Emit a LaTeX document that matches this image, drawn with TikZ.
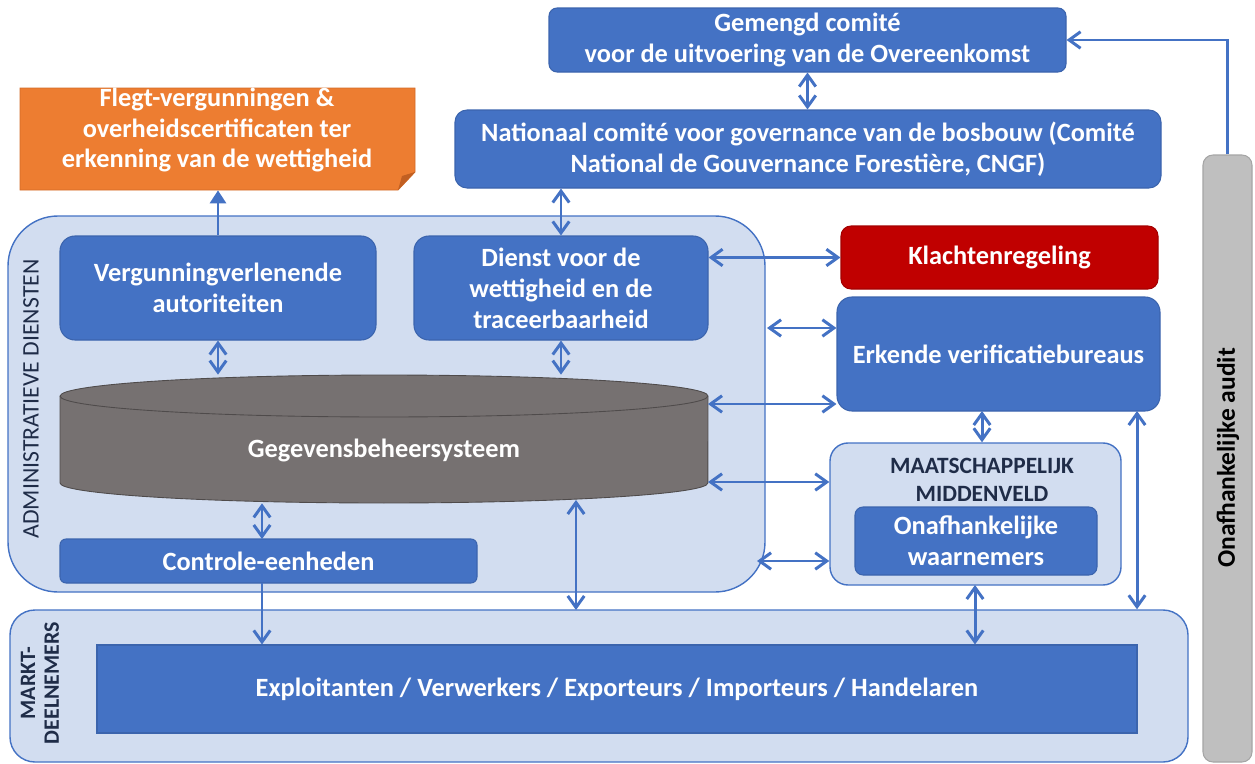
\documentclass[tikz,border=0pt]{standalone}
\usepackage{fontspec}
\setmainfont{Carlito}
\usetikzlibrary{arrows.meta}
\definecolor{bblue}{HTML}{4472C4}
\definecolor{bedge}{HTML}{3B64AD}
\definecolor{lblue}{HTML}{D2DDF0}
\definecolor{navy}{HTML}{1F2C48}
\definecolor{orng}{HTML}{ED7D31}
\definecolor{orngdark}{HTML}{C15F22}
\definecolor{rd}{HTML}{C00000}
\definecolor{dbgray}{HTML}{767171}
\definecolor{dbedge}{HTML}{4F4B4B}
\definecolor{auditgray}{HTML}{BFBFBF}
\definecolor{auditedge}{HTML}{A5A5A5}
\newcommand{\txtmain}{\fontsize{15}{17.6}\selectfont\bfseries}
\begin{document}
\begin{tikzpicture}[x=0.02cm,y=-0.02cm,
 sz/.style 2 args={minimum width=#1*0.02cm, minimum height=#2*0.02cm},
 box/.style={fill=bblue, draw=bedge, line width=0.6pt, text=white, font=\txtmain, align=center, inner sep=0pt},
 cont/.style={fill=lblue, draw=bblue, line width=0.8pt, inner sep=0pt},
 conn/.style={draw=bblue, line width=1.7pt},
 dbl/.style={conn, {Straight Barb[length=2.3mm,width=3.3mm]}-{Straight Barb[length=2.3mm,width=3.3mm]}},
 one/.style={conn, -{Straight Barb[length=2.3mm,width=3.3mm]}},
 tri/.style={conn, -{Triangle[length=2.6mm,width=3.2mm]}},
 wtext/.style={text=white, font=\txtmain, align=center, inner sep=0pt},
 lab/.style={text=navy, align=center, inner sep=0pt}
]
\useasboundingbox (0,0) rectangle (1255,764);

% containers
\node[cont, rounded corners=1cm, sz={757}{376}] (admin) at (386.5,404) {};
\node[cont, rounded corners=0.5cm, sz={1178}{152}] (markt) at (599,686) {};
\node[cont, rounded corners=0.36cm, sz={291}{142}] (maat) at (975.5,514) {};

% audit bar
\node[fill=auditgray, draw=auditedge, line width=0.6pt, rounded corners=0.2cm, inner sep=0pt, sz={49}{607}] (audit) at (1227.5,458.5) {};
\node[rotate=90, font=\fontsize{14.5}{17}\selectfont\bfseries, inner sep=0pt] (audittxt) at (1228,458) {Onafhankelijke audit};

% top committees
\node[box, rounded corners=0.16cm, sz={517}{64}] (gem) at (807.5,40) {Gemengd comité\\voor de uitvoering van de Overeenkomst};
\node[box, rounded corners=0.24cm, sz={706}{78}] (nat) at (808,149) {Nationaal comité voor governance van de bosbouw (Comité\\National de Gouvernance Forestière, CNGF)};

% flegt (folded corner)
\fill[orng] (20,88) -- (415,88) -- (415,172) -- (398,190) -- (20,190) -- cycle;
\draw[orngdark!60!orng, line width=0.5pt] (20,88) -- (415,88) -- (415,172) -- (398,190) -- (20,190) -- cycle;
\fill[orngdark] (398,190) -- (402,176) -- (415,172) -- cycle;
\node[inner sep=0pt, sz={395}{102}] (flegt) at (217.5,139) {};
\node[wtext] (flegttxt) at (217,130) {Flegt-vergunningen \&\\overheidscertificaten ter\\erkenning van de wettigheid};

% administrative services
\node[box, rounded corners=0.3cm, sz={316}{104}] (verg) at (218,288) {Vergunningverlenende\\autoriteiten};
\node[box, rounded corners=0.3cm, sz={294}{104}] (dienst) at (561,288) {Dienst voor de\\wettigheid en de\\traceerbaarheid};

\filldraw[fill=dbgray, draw=dbedge, line width=0.5pt] (60,396) -- (60,483)
  arc[start angle=180, end angle=360, x radius=6.48cm, y radius=0.4cm] -- (708,396)
  arc[start angle=0, end angle=180, x radius=6.48cm, y radius=0.42cm] -- cycle;
\draw[dbedge, line width=0.5pt] (60,396) arc[start angle=180, end angle=360, x radius=6.48cm, y radius=0.42cm];
\node[inner sep=0pt, sz={648}{128}] (db) at (384,439) {};
\node[wtext] (dbtxt) at (384,450) {Gegevensbeheersysteem};

\node[box, rounded corners=0.12cm, sz={417}{44}] (ctrl) at (268.5,561) {Controle-eenheden};
\node[lab, rotate=90, font=\fontsize{13.5}{15}\selectfont] (admintxt) at (31,399) {ADMINISTRATIEVE DIENSTEN};

% right side
\node[box, fill=rd, draw=rd!85!black, rounded corners=0.2cm, sz={317}{63}] (klacht) at (999.5,257.5) {Klachtenregeling};
\node[box, rounded corners=0.3cm, sz={323}{114}] (erk) at (998.5,354) {Erkende verificatiebureaus};
\node[lab, font=\fontsize{13.3}{15.8}\selectfont\bfseries] (maattxt) at (982,480) {MAATSCHAPPELIJK\\MIDDENVELD};
\node[box, rounded corners=0.16cm, sz={242}{68}] (onaf) at (976,541) {Onafhankelijke\\waarnemers};

% market participants
\node[box, rounded corners=0pt, sz={1040}{88}] (expl) at (617,689) {Exploitanten / Verwerkers / Exporteurs / Importeurs / Handelaren};
\node[lab, rotate=90, font=\fontsize{12.5}{13.6}\selectfont\bfseries] (markttxt) at (40,683) {MARKT-\\DEELNEMERS};

% coordinates for free connector ends
\coordinate (a1) at (767,328);
\coordinate (a2) at (757,561);
\coordinate (d1) at (708,404);
\coordinate (d2) at (708,482);
\coordinate (c1) at (262,539);
\coordinate (c2) at (262,583);
\coordinate (m1) at (576,610);
\coordinate (m2) at (576,500);
\coordinate (e1) at (1137,411);
\coordinate (e2) at (982,411);
\coordinate (o1) at (975,585);

% connectors
\draw[dbl] (gem.south) -- (gem.south |- nat.north);
\draw[one] (audit.north) |- (gem.east);
\draw[tri] (verg.north) -- (verg.north |- flegt.south);
\draw[dbl] (dienst.north) -- (dienst.north |- nat.south);
\draw[dbl] (verg.south) -- (verg.south |- db.north);
\draw[dbl] (dienst.south) -- (dienst.south |- db.north);
\draw[dbl] (c1) -- (c1 |- db.south);
\draw[one] (c2) -- (c2 |- expl.north);
\draw[dbl] (m1) -- (m2);
\draw[dbl] (dienst.east |- klacht.west) -- (klacht.west);
\draw[dbl] (a1) -- (a1 -| erk.west);
\draw[dbl] (d1) -- (d1 -| erk.west);
\draw[dbl] (d2) -- (d2 -| maat.west);
\draw[dbl] (a2) -- (a2 -| maat.west);
\draw[dbl] (e2) -- (e2 |- maat.north);
\draw[dbl] (e1) -- (e1 |- markt.north);
\draw[dbl] (o1) -- (o1 |- expl.north);
\end{tikzpicture}
\end{document}
